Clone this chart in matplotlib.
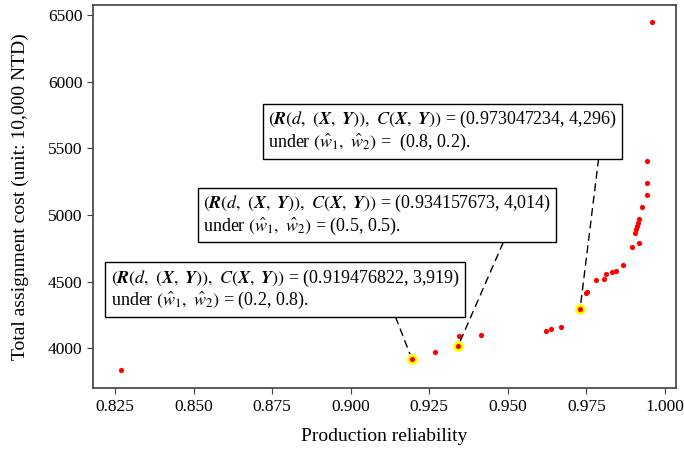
import matplotlib
matplotlib.use("Agg")
import matplotlib.pyplot as plt

# ── Data ─────────────────────────────────────────────────────
reliability = [0.8268, 0.9195, 0.9268, 0.9342, 0.9344, 0.9414,
               0.9623, 0.9639, 0.9671, 0.9730, 0.9749, 0.9753,
               0.9780, 0.9806, 0.9814, 0.9832, 0.9846, 0.9868,
               0.9896, 0.9919, 0.9906, 0.9909, 0.9913, 0.9916,
               0.9919, 0.9928, 0.9944, 0.9944, 0.9944, 0.9958]
cost = [3840, 3919, 3970, 4014, 4090, 4100,
        4130, 4145, 4162, 4296, 4411, 4423,
        4511, 4519, 4555, 4575, 4580, 4624,
        4759, 4787, 4862, 4892, 4917, 4942,
        4968, 5058, 5148, 5241, 5406, 6445]

# highlighted solutions
sel_reliability = [0.919476822, 0.934157673, 0.973047234]
sel_cost = [3919, 4014, 4296]
sel_weights = [("0.2", "0.8"), ("0.5", "0.5"), ("0.8", "0.2")]

xticks = [0.825, 0.850, 0.875, 0.900, 0.925, 0.950, 0.975, 1.000]
yticks = [4000, 4500, 5000, 5500, 6000, 6500]

# ── Style ────────────────────────────────────────────────────
plt.rcParams['font.family'] = ['Liberation Serif', 'DejaVu Serif']
plt.rcParams['mathtext.fontset'] = 'stix'

fig = plt.figure(figsize=(6.84, 4.54), dpi=100)
ax = fig.add_axes([0.136, 0.145, 0.852, 0.844])

ax.scatter(sel_reliability, sel_cost, s=60, color='#ffff00', zorder=2, linewidths=0)
ax.scatter(reliability, cost, s=14, color='#ff0000', zorder=3, linewidths=0)

# ── Annotation boxes ─────────────────────────────────────────
box_pos = [(0.8236, 4440), (0.8530, 5000), (0.8737, 5628)]
rel_x = [0.81, 0.87, 0.95]
eq_gap = ["", "", " "]
for i in range(3):
    line1 = (r'$(\mathbfit{R}(d,\ (\mathbfit{X},\ \mathbfit{Y})),\ C(\mathbfit{X},\ \mathbfit{Y}))$'
             + f' = ({sel_reliability[i]:.9f}, {sel_cost[i]:,})')
    line2 = (r'under $(\hat{w}_1,\ \hat{w}_2)$ = ' + eq_gap[i]
             + f'({sel_weights[i][0]}, {sel_weights[i][1]}).')
    ax.annotate(line1 + '\n' + line2,
                xy=(sel_reliability[i], sel_cost[i]),
                xytext=box_pos[i], textcoords='data',
                ha='left', va='center', fontsize=13, linespacing=1.1,
                bbox=dict(boxstyle='square,pad=0.3', fc='white', ec='black', lw=1),
                arrowprops=dict(arrowstyle='-', linestyle=(0, (5, 4)), color='black',
                                lw=1, relpos=(rel_x[i], 0), shrinkA=0, shrinkB=4),
                zorder=4)

# ── Axes ─────────────────────────────────────────────────────
ax.set_xlim(0.818, 1.0035)
ax.set_ylim(3700, 6575)
ax.set_xticks(xticks)
ax.set_xticklabels([f'{t:.3f}' for t in xticks])
ax.set_yticks(yticks)
ax.tick_params(labelsize=12.5, direction='out', length=4, color='#404040')
for sp in ax.spines.values():
    sp.set_color('#404040')
    sp.set_linewidth(1.2)

ax.set_xlabel('Production reliability', fontsize=14, labelpad=10)
ax.set_ylabel('Total assignment cost (unit: 10,000 NTD)', fontsize=14, labelpad=14)

fig.savefig('out.png', dpi=100)
